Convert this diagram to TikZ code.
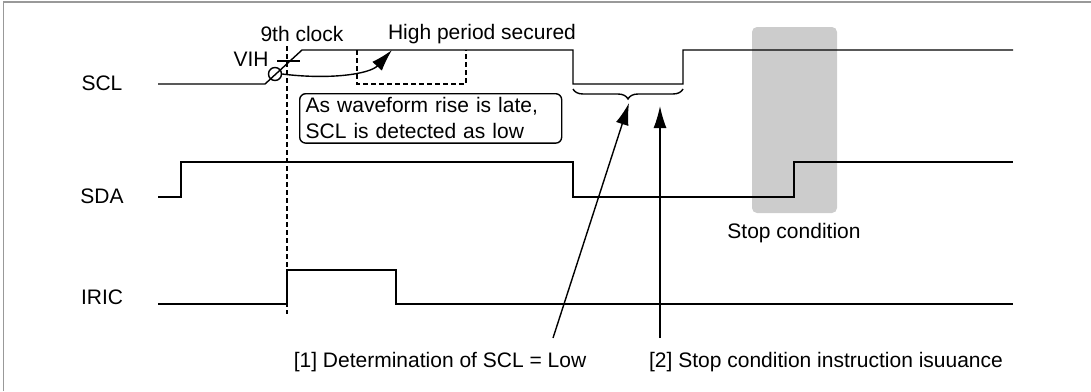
\documentclass[tikz,border=0pt]{standalone}
\usepackage{fontspec}
\setmainfont{Liberation Sans}
\usetikzlibrary{arrows.meta,decorations.pathreplacing,positioning}

\newcommand*{\sclhi}{50}
\newcommand*{\scllo}{84}
\newcommand*{\sdahi}{162}
\newcommand*{\sdalo}{197}
\newcommand*{\irichi}{270}
\newcommand*{\iriclo}{304}
\newcommand*{\xend}{1013}

\begin{document}
\begin{tikzpicture}
[
	x=1pt,y=-1pt,
	font=\fontsize{21}{26}\selectfont,
	wave/.style={line width=1.4pt},
	note/.style={draw,rounded corners=6pt,line width=1.4pt,align=left,text width=250pt,inner xsep=6pt,inner ysep=4pt},
	tip/.style={-{Latex[length=22pt,width=13pt]},line width=1.4pt},
	guide/.style={line width=1.4pt,dash pattern=on 5pt off 3pt}
]
	\useasboundingbox (0,0) rectangle (1091,391);

	% frame
	\draw[gray!120!black,line width=1.5pt] (3.5,391) -- (3.5,2) -- (1091,2);

	% stop condition
	\fill[black!20,rounded corners=5pt] (752,27) rectangle (837,213);
	\node (stop) at (794,233) {Stop condition};

	% signal names
	\node (scl) at (102,83) {SCL};
	\node (sda) at (102,196) {SDA};
	\node (iric) at (102,297) {IRIC};

	% waveforms
	\draw[wave] (158,\scllo) -- (265,\scllo) -- (302,\sclhi) -- (573,\sclhi) -- (573,\scllo)
		-- (683,\scllo) -- (683,\sclhi) -- (\xend,\sclhi);
	\draw[wave] (158,\sdalo) -- (181,\sdalo) -- (181,\sdahi) -- (573,\sdahi) -- (573,\sdalo)
		-- (794,\sdalo) -- (794,\sdahi) -- (\xend,\sdahi);
	\draw[wave] (158,\iriclo) -- (287,\iriclo) -- (287,\irichi) -- (396,\irichi) -- (396,\iriclo)
		-- (\xend,\iriclo);

	% 9th clock
	\draw[guide] (287,46) -- (287,314);
	\node (clk) at (302,34) {9th clock};
	\node (vihtxt) at (251,59) {VIH};
	\draw[wave] (277,61) -- (300,61);
	\node[circle,draw,line width=1.4pt,minimum size=13pt,inner sep=0pt] (vih) at (275,74) {};

	% high period
	\draw[guide] (357,\sclhi) -- (357,\scllo) -- (466,\scllo) -- (466,\sclhi);
	\node (high) at (482,34) {High period secured};
	\coordinate (hightip) at (392,50);
	\draw[tip] (vih.east) .. controls (330,80) and (370,74) .. (hightip);

	\node[note,anchor=north west] (late) at (299,93) {As waveform rise is late,\\SCL is detected as low};

	% brace and pointers
	\draw[wave,decorate,decoration={brace,mirror,amplitude=10pt}] (573,89) -- (683,89);
	\coordinate (brtip) at (629,103);
	\node (det) at (440,362) {[1] Determination of SCL = Low};
	\node (iss) at (826,362) {[2] Stop condition instruction isuuance};
	\coordinate (p1) at (553,338);
	\coordinate (p2) at (660,338);
	\draw[tip] (p1) -- (brtip);
	\draw[tip] (p2) -- (660,106);

\end{tikzpicture}
\end{document}
